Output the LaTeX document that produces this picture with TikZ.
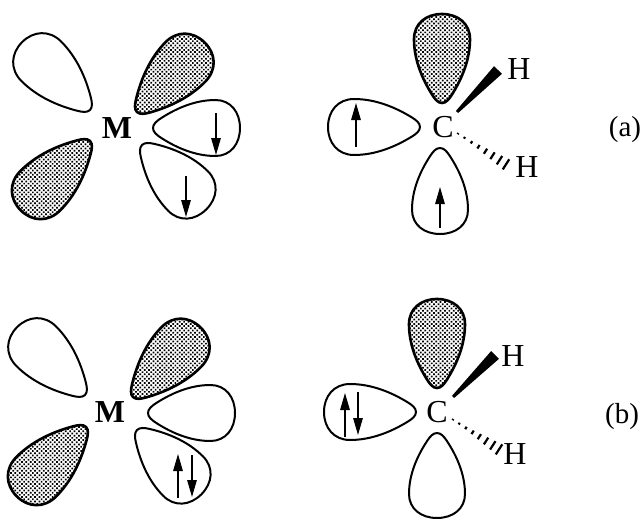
\documentclass[tikz,border=0pt]{standalone}
\usepackage{fontspec}
\setmainfont{Liberation Serif}
\usetikzlibrary{arrows.meta,calc,patterns.meta}
\tikzset{
  lobe/.style={draw=black, line width=2pt, fill=white},
  shaded/.style={draw=black, line width=2.6pt, pattern={Dots[distance=3.1pt, radius=1.2pt, angle=45]}},
  atom/.style={font=\fontsize{32}{32}\selectfont, inner sep=0pt},
  metal/.style={font=\fontsize{32}{32}\selectfont\bfseries, inner sep=0pt},
  tag/.style={font=\fontsize{29}{29}\selectfont, inner sep=0pt},
  spin/.style={-{Triangle[length=17pt, width=9.5pt]}, line width=1.5pt, draw=black}
}
% #1 tip, #2 direction, #3 length, #4 style
\newcommand{\orbital}[4]{
  \begin{scope}[shift={(#1)}, rotate=#2, xscale=#3/92]
    \path[#4] (0,0) .. controls (0,-4) and (4,-7) .. (8,-9.5)
      .. controls (25,-20) and (45,-28) .. (66,-28)
      .. controls (82,-28) and (92,-16) .. (92,0)
      .. controls (92,16) and (82,28) .. (66,28)
      .. controls (45,28) and (25,20) .. (8,9.5)
      .. controls (4,7) and (0,4) .. (0,0) -- cycle;
  \end{scope}
}
% #1 start, #2 end of the wedge
\newcommand{\wedgebond}[2]{
  \fill ($(#1)!1.5pt!90:(#2)$) -- ($(#2)!5.5pt!-90:(#1)$) -- ($(#2)!5.5pt!90:(#1)$) -- ($(#1)!1.5pt!-90:(#2)$) -- cycle;
}
\newcommand{\hashbond}[2]{
  \foreach \f/\w in {0.02/0.7,0.15/1,0.29/1.4,0.43/2.1,0.57/3,0.71/4,0.85/5,0.98/6}{
    \coordinate (hc) at ($(#1)!\f!(#2)$);
    \draw[line width=2.2pt] ($(hc)!\w pt!90:(#2)$) -- ($(hc)!\w pt!-90:(#2)$);
  }
}
\begin{document}
\begin{tikzpicture}[x=1pt, y=-1pt]
\useasboundingbox (0,0) rectangle (643,519);
% top row
\orbital{90,110}{135}{96}{lobe}
\orbital{137,112}{46}{97}{shaded}
\orbital{90,141}{225}{98}{shaded}
\orbital{153,128}{0}{87}{lobe}
\orbital{142,145}{-45}{91}{lobe}
\orbital{442,103}{90}{89}{shaded}
\orbital{420,127}{180}{92}{lobe}
\orbital{440,148}{270}{86}{lobe}
\node[metal] (ma) at (117,128) {M};
\node[atom] (ca) at (443,127) {C};
\node[atom] (hua) at (519,69) {H};
\node[atom] (hla) at (527,167) {H};
\node[tag] (la) at (625,130) {(a)};
\coordinate (wa1) at (457,112);
\coordinate (wa2) at (498,70);
\coordinate (ha1) at (457,133);
\coordinate (ha2) at (507,165);
\wedgebond{wa1}{wa2}
\hashbond{ha1}{ha2}
\coordinate (sa1) at (216,113); \coordinate (sa2) at (216,155);
\coordinate (sa3) at (186,176); \coordinate (sa4) at (186,217);
\coordinate (sa5) at (356,147); \coordinate (sa6) at (356,103);
\coordinate (sa7) at (440,228); \coordinate (sa8) at (440,187);
\draw[spin] (sa1)--(sa2);\draw[spin] (sa3)--(sa4);\draw[spin] (sa5)--(sa6);\draw[spin] (sa7)--(sa8);
% bottom row
\orbital{85,395}{135}{96}{lobe}
\orbital{133,397}{46}{97}{shaded}
\orbital{86,427}{225}{98}{shaded}
\orbital{148,413}{0}{87}{lobe}
\orbital{137,430}{-45}{91}{lobe}
\orbital{437,388}{90}{89}{shaded}
\orbital{416,412}{180}{92}{lobe}
\orbital{437,433}{270}{85}{lobe}
\node[metal] (mb) at (110,412) {M};
\node[atom] (cb) at (437,412) {C};
\node[atom] (hub) at (513,356) {H};
\node[atom] (hlb) at (515,454) {H};
\node[tag] (lb) at (622,417) {(b)};
\coordinate (wb1) at (453,397);
\coordinate (wb2) at (495,355);
\coordinate (hb1) at (452,419);
\coordinate (hb2) at (500,450);
\wedgebond{wb1}{wb2}
\hashbond{hb1}{hb2}
\coordinate (sb1) at (178,498); \coordinate (sb2) at (178,454);
\coordinate (sb3) at (192,455); \coordinate (sb4) at (192,497);
\coordinate (sb5) at (345,437); \coordinate (sb6) at (345,393);
\coordinate (sb7) at (358,392); \coordinate (sb8) at (358,435);
\draw[spin] (sb1)--(sb2);\draw[spin] (sb3)--(sb4);\draw[spin] (sb5)--(sb6);\draw[spin] (sb7)--(sb8);
\end{tikzpicture}
\end{document}
